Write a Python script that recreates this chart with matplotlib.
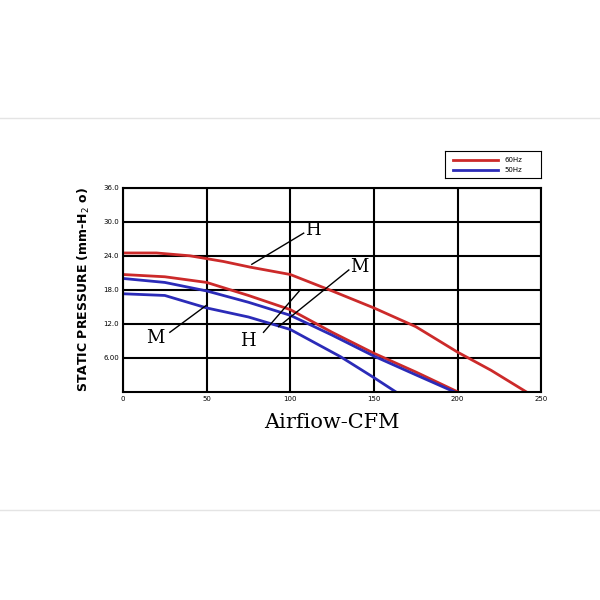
import matplotlib.pyplot as plt

# curves (CFM, mm-H2O)
red_h_x = [0, 20, 40, 60, 76, 100, 125, 150, 175, 200, 220, 241]
red_h_y = [24.5, 24.5, 24.0, 23.0, 22.0, 20.7, 17.8, 14.8, 11.5, 7.0, 3.8, 0]
red_m_x = [0, 25, 50, 75, 100, 125, 150, 175, 200]
red_m_y = [20.7, 20.3, 19.3, 17.0, 14.5, 10.5, 6.8, 3.5, 0]
blue_h_x = [0, 25, 50, 75, 100, 125, 150, 175, 198]
blue_h_y = [20.0, 19.3, 17.8, 15.8, 13.5, 10.0, 6.3, 3.0, 0]
blue_m_x = [0, 25, 50, 75, 100, 130, 150, 163]
blue_m_y = [17.3, 17.0, 14.8, 13.2, 11.0, 6.2, 2.5, 0]

xticks = [0, 50, 100, 150, 200, 250]
yticks = [6, 12, 18, 24, 30, 36]
ytick_labels = ['6.00', '12.0', '18.0', '24.0', '30.0', '36.0']

fig = plt.figure(figsize=(6, 6), dpi=100)
# faint horizontal frame lines across the image
fig.add_artist(plt.Line2D([0, 1], [0.803, 0.803], color='#e4e4e4', lw=1))
fig.add_artist(plt.Line2D([0, 1], [0.15, 0.15], color='#e4e4e4', lw=1))

ax = fig.add_axes([0.205, 0.347, 0.697, 0.34])

red = '#cc2a2a'
blue = '#2b2bb8'
ax.plot(red_h_x, red_h_y, color=red, lw=2)
ax.plot(red_m_x, red_m_y, color=red, lw=2)
ax.plot(blue_h_x, blue_h_y, color=blue, lw=2)
ax.plot(blue_m_x, blue_m_y, color=blue, lw=2)

ax.set_xlim(0, 250)
ax.set_ylim(0, 36)
ax.set_xticks(xticks)
ax.set_yticks(yticks)
ax.set_yticklabels(ytick_labels)
ax.tick_params(labelsize=5, length=0, pad=3)
ax.grid(True, color='black', lw=1.5)
for s in ax.spines.values():
    s.set_linewidth(1.5)

ax.set_xlabel('Airfiow-CFM', fontsize=15, family='DejaVu Serif', labelpad=8)
ax.set_ylabel('STATIC PRESSURE (mm-H$_2$ o)', fontsize=9, fontweight='bold', labelpad=8)

# H / M annotations
ax.plot([77, 108], [22.5, 28], color='black', lw=1)
ax.text(109, 28.5, 'H', fontsize=13, family='DejaVu Serif', va='center')
ax.plot([93, 135], [11.5, 21.5], color='black', lw=1)
ax.text(136, 22, 'M', fontsize=13, family='DejaVu Serif', va='center')
ax.plot([28, 50], [10.5, 15.3], color='black', lw=1)
ax.text(14, 9.5, 'M', fontsize=13, family='DejaVu Serif', va='center')
ax.plot([84, 106], [10.5, 18.0], color='black', lw=1)
ax.text(70, 9.0, 'H', fontsize=13, family='DejaVu Serif', va='center')

# legend box
lax = fig.add_axes([0.742, 0.703, 0.16, 0.045])
lax.set_xlim(0, 1)
lax.set_ylim(0, 1)
lax.set_xticks([])
lax.set_yticks([])
lax.plot([0.08, 0.55], [0.68, 0.68], color=red, lw=2)
lax.plot([0.08, 0.55], [0.3, 0.3], color=blue, lw=2)
lax.text(0.62, 0.68, '60Hz', fontsize=5, va='center')
lax.text(0.62, 0.3, '50Hz', fontsize=5, va='center')

fig.savefig('out.png', dpi=100)
